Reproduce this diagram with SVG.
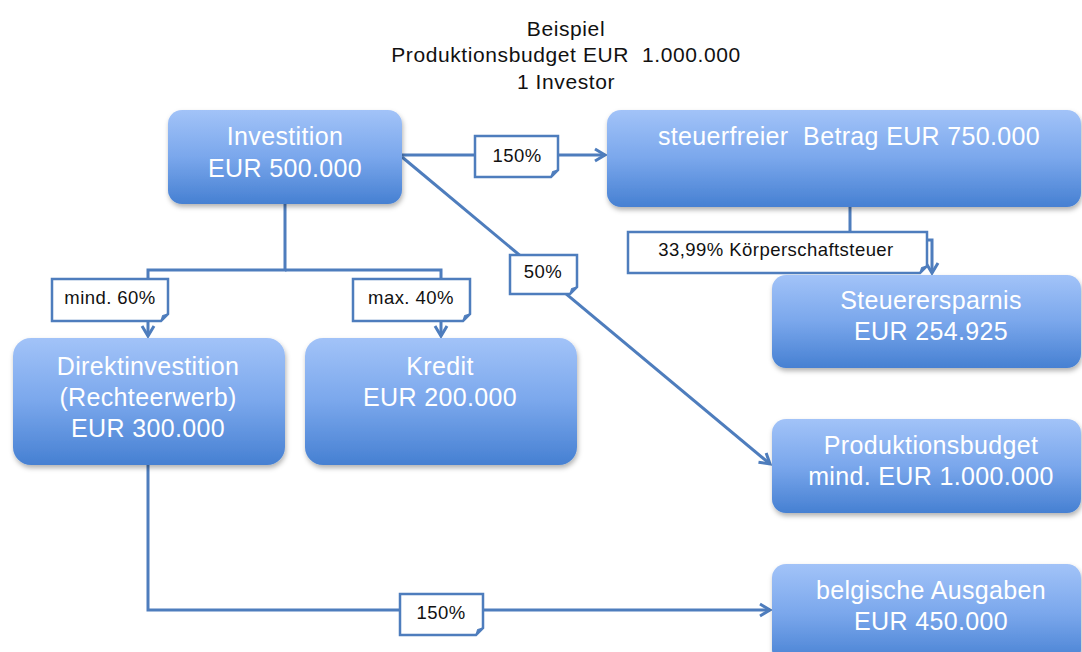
<svg xmlns="http://www.w3.org/2000/svg" width="1082" height="652" viewBox="0 0 1082 652">
<style>
.node{fill:url(#g);filter:url(#sh)}
.nt{font-family:"Liberation Sans",Arial,sans-serif;font-size:25px;letter-spacing:0.35px;fill:#ffffff;text-anchor:middle}
.title{font-family:"Liberation Sans",Arial,sans-serif;font-size:21px;letter-spacing:0.6px;fill:#111111;text-anchor:middle}
.conn{fill:none;stroke:#4e7dbd;stroke-width:3;stroke-linejoin:miter}
.lbl{fill:#ffffff;stroke:#4e7dbd;stroke-width:2.5}
.fold{fill:#4e7dbd;stroke:#4e7dbd;stroke-width:1}
.lt{font-family:"Liberation Sans",Arial,sans-serif;font-size:18.5px;letter-spacing:0.45px;fill:#111111;text-anchor:middle}
</style>
<defs>
<linearGradient id="g" x1="0" y1="0" x2="0" y2="1">
<stop offset="0" stop-color="#a2c3f8"/>
<stop offset="0.5" stop-color="#7aa7ec"/>
<stop offset="1" stop-color="#4680d2"/>
</linearGradient>
<filter id="sh" x="-10%" y="-10%" width="120%" height="130%">
<feDropShadow dx="1" dy="3" stdDeviation="2.5" flood-color="#000000" flood-opacity="0.3"/>
</filter>
<marker id="ar" markerUnits="userSpaceOnUse" markerWidth="16" markerHeight="16" viewBox="0 0 16 16" refX="13" refY="8" orient="auto">
<path d="M3,2 L13,8 L3,14" fill="none" stroke="#4e7dbd" stroke-width="3"/>
</marker>
</defs>
<rect width="1082" height="652" fill="#ffffff"/>
<g id="title">
<text class="title" x="566" y="36">Beispiel</text>
<text class="title" x="566" y="62" xml:space="preserve">Produktionsbudget EUR  1.000.000</text>
<text class="title" x="566" y="89">1 Investor</text>
</g>
<g id="connectors">
<path class="conn" d="M285,204 V270 H148 V336" marker-end="url(#ar)"/>
<path class="conn" d="M285,270 H441 V336" marker-end="url(#ar)"/>
<path class="conn" d="M402,155 H605" marker-end="url(#ar)"/>
<path class="conn" d="M402,157 L770,464" marker-end="url(#ar)"/>
<path class="conn" d="M850,207 V240 H932 V273" marker-end="url(#ar)"/>
<path class="conn" d="M148,465 V610 H770" marker-end="url(#ar)"/>
</g>
<g id="node-investition">
<rect class="node" x="168" y="110" width="234" height="94" rx="14"/>
<text class="nt" x="285" y="145">Investition</text>
<text class="nt" x="285" y="177">EUR 500.000</text>
</g>
<g id="node-steuerfrei">
<rect class="node" x="607" y="110" width="474" height="97" rx="14"/>
<text class="nt" x="849" y="145" xml:space="preserve">steuerfreier  Betrag EUR 750.000</text>
</g>
<g id="node-steuerersparnis">
<rect class="node" x="772" y="275" width="309" height="93" rx="14"/>
<text class="nt" x="931" y="309">Steuerersparnis</text>
<text class="nt" x="931" y="340">EUR 254.925</text>
</g>
<g id="node-direkt">
<rect class="node" x="13" y="338" width="272" height="127" rx="18"/>
<text class="nt" x="148" y="375">Direktinvestition</text>
<text class="nt" x="148" y="406">(Rechteerwerb)</text>
<text class="nt" x="148" y="437">EUR 300.000</text>
</g>
<g id="node-kredit">
<rect class="node" x="305" y="338" width="272" height="127" rx="18"/>
<text class="nt" x="440" y="375">Kredit</text>
<text class="nt" x="440" y="406">EUR 200.000</text>
</g>
<g id="node-produktionsbudget">
<rect class="node" x="772" y="419" width="309" height="94" rx="14"/>
<text class="nt" x="931" y="454">Produktionsbudget</text>
<text class="nt" x="931" y="485">mind. EUR 1.000.000</text>
</g>
<g id="node-belgisch">
<rect class="node" x="772" y="564" width="309" height="100" rx="14"/>
<text class="nt" x="931" y="599">belgische Ausgaben</text>
<text class="nt" x="931" y="630">EUR 450.000</text>
</g>
<g id="label-150-top">
<path class="lbl" d="M475,136 H558 V170 L551,177 H475 Z"/>
<path class="fold" d="M558,170 L551,177 L552.5,171.5 Z"/>
<text class="lt" x="517" y="162">150%</text>
</g>
<g id="label-mind60">
<path class="lbl" d="M52,279 H168 V314 L161,321 H52 Z"/>
<path class="fold" d="M168,314 L161,321 L162.5,315.5 Z"/>
<text class="lt" x="110" y="304">mind. 60%</text>
</g>
<g id="label-max40">
<path class="lbl" d="M353,279 H470 V314 L463,321 H353 Z"/>
<path class="fold" d="M470,314 L463,321 L464.5,315.5 Z"/>
<text class="lt" x="411" y="304">max. 40%</text>
</g>
<g id="label-50">
<path class="lbl" d="M510,255 H577 V287 L570,294 H510 Z"/>
<path class="fold" d="M577,287 L570,294 L571.5,288.5 Z"/>
<text class="lt" x="543" y="278">50%</text>
</g>
<g id="label-kst">
<path class="lbl" d="M628,232 H927 V266 L920,273 H628 Z"/>
<path class="fold" d="M927,266 L920,273 L921.5,267.5 Z"/>
<text class="lt" x="776" y="256">33,99% Körperschaftsteuer</text>
</g>
<g id="label-150-bottom">
<path class="lbl" d="M400,594 H483 V628 L476,635 H400 Z"/>
<path class="fold" d="M483,628 L476,635 L477.5,629.5 Z"/>
<text class="lt" x="441" y="619">150%</text>
</g>
</svg>
